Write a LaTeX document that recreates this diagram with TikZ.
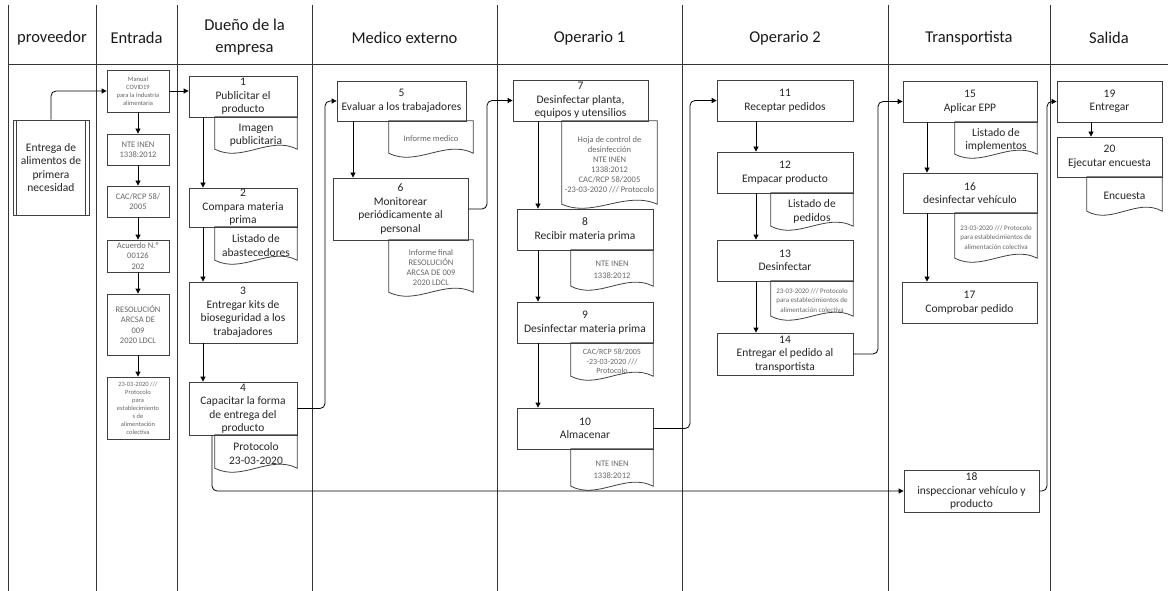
\documentclass[tikz,border=0pt]{standalone}
\usepackage{fontspec}
\setmainfont{Carlito}
\usetikzlibrary{arrows.meta,calc}
\newcommand\docshape[1]{%
  \draw[docline] (#1.north west) -- (#1.north east) -- ([yshift=4pt]#1.south east)
    .. controls ([yshift=18pt]$(#1.south west)!0.67!(#1.south east)$) and ([yshift=-10pt]$(#1.south west)!0.33!(#1.south east)$) .. ([yshift=4pt]#1.south west) -- cycle;}
\tikzset{
  lane/.style={draw=black!80, line width=1pt},
  box/.style={draw=black!75, line width=0.8pt, fill=white, align=center, inner sep=1pt, text=black!85, font=\fontsize{11.5}{13.5}\selectfont},
  ebox/.style={box, text=black!60, font=\fontsize{8.5}{10.3}\selectfont},
  doc/.style={align=center, inner sep=1pt, text=black!85, font=\fontsize{11.5}{13.5}\selectfont},
  sdoc/.style={doc, text=black!60, font=\fontsize{8.5}{10}\selectfont},
  tdoc/.style={doc, text=black!60, font=\fontsize{7}{9.5}\selectfont},
  docline/.style={draw=black!75, line width=0.8pt},
  conn/.style={draw=black, line width=0.8pt, rounded corners=5pt, -{Triangle[length=5pt,width=5pt]}},
  hdr/.style={align=center, font=\fontsize{16.5}{22}\selectfont, text=black!90}
}
\begin{document}
\begin{tikzpicture}[x=1pt,y=-1pt]
\useasboundingbox (0,0) rectangle (1168,591);
% lanes
\foreach \xx in {8,96,177,312,497,682,888,1050}{\draw[lane] (\xx,5) -- (\xx,591);}
\draw[lane] (8,65) -- (1168,65);
% headers
\node[hdr] (h1) at (52,38) {proveedor};
\node[hdr] (h2) at (136.5,38) {Entrada};
\node[hdr] (h3) at (244.5,37) {Dueño de la\\empresa};
\node[hdr] (h4) at (404.5,38) {Medico externo};
\node[hdr] (h5) at (589.5,38) {Operario 1};
\node[hdr] (h6) at (785,38) {Operario 2};
\node[hdr] (h7) at (969,38) {Transportista};
\node[hdr] (h8) at (1109,38) {Salida};
% routing coordinates
\coordinate (r4) at (212,0);
\coordinate (r4b) at (325,0);
\coordinate (r6) at (487,0);
\coordinate (r10) at (690,0);
\coordinate (r14) at (878,0);
\coordinate (r18) at (1047,0);
\coordinate (cD) at (203,0);
\coordinate (cM) at (353,0);
\coordinate (cO) at (538,0);
\coordinate (cP) at (756,0);
\coordinate (cT) at (927,0);
\coordinate (cS) at (1091,0);
% proveedor
\node[box, minimum width=76, minimum height=95] (p) at (51,167.5) {Entrega de\\alimentos de\\primera\\necesidad};
\draw[docline] ([xshift=4pt]p.north west) -- ([xshift=4pt]p.south west);
\draw[docline] ([xshift=-4pt]p.north east) -- ([xshift=-4pt]p.south east);
% entrada
\node[ebox, minimum width=62, minimum height=42, font=\fontsize{6.5}{8}\selectfont] (e1) at (138,91) {Manual\\COVID19\\para la industria\\alimentaria};
\node[ebox, minimum width=62, minimum height=31] (e2) at (138,149.5) {NTE INEN\\1338:2012};
\node[ebox, minimum width=62, minimum height=31] (e3) at (138,201.5) {CAC/RCP 58/\\2005};
\node[ebox, minimum width=62, minimum height=32] (e4) at (138,256) {Acuerdo N.º\\00126\\202};
\node[ebox, minimum width=62, minimum height=61] (e5) at (138,324.5) {RESOLUCIÓN\\ARCSA DE\\009\\2020 LDCL};
\node[ebox, minimum width=62, minimum height=62, font=\fontsize{6.5}{8}\selectfont] (e6) at (138,408) {23-03-2020 ///\\Protocolo\\para\\establecimiento\\s de\\alimentación\\colectiva};
% dueño
\node[box, minimum width=108, minimum height=41] (b1) at (243,96.5) {1\\Publicitar el\\producto};
\node[doc, minimum width=82, minimum height=36] (d1) at (256,135) {Imagen\\publicitaria};
\node[box, minimum width=108, minimum height=39] (b2) at (243,207.5) {2\\Compara materia\\prima};
\node[doc, minimum width=82, minimum height=37] (d2) at (256,245.5) {Listado de\\abastecedores};
\node[box, minimum width=108, minimum height=61] (b3) at (243,312.5) {3\\Entregar kits de\\bioseguridad a los\\trabajadores};
\node[box, minimum width=108, minimum height=53] (b4) at (243,408.5) {4\\Capacitar la forma\\de entrega del\\producto};
\node[doc, minimum width=82, minimum height=37] (d4) at (256,453.5) {Protocolo\\23-03-2020};
% medico
\node[box, minimum width=129, minimum height=40] (b5) at (401.5,101) {5\\Evaluar a los trabajadores};
\node[sdoc, minimum width=84, minimum height=36] (d5) at (431,139) {Informe medico};
\node[box, minimum width=135, minimum height=62] (b6) at (400.5,209) {6\\Monitorear\\periódicamente al\\personal};
\node[sdoc, minimum width=84, minimum height=56] (d6) at (431,268) {Informe final\\RESOLUCIÓN\\ARCSA DE 009\\2020 LDCL};
% operario 1
\node[box, minimum width=135, minimum height=41] (b7) at (580.5,100.5) {7\\Desinfectar planta,\\equipos y utensilios};
\node[sdoc, minimum width=95, minimum height=87] (d7) at (609.5,164.5) {Hoja de control de\\desinfección\\NTE INEN\\1338:2012\\CAC/RCP 58/2005\\-23-03-2020 /// Protocolo};
\node[box, minimum width=136, minimum height=41] (b8) at (585,229.5) {8\\Recibir materia prima};
\node[sdoc, minimum width=82, minimum height=40, font=\fontsize{8.5}{12}\selectfont] (d8) at (612,270) {NTE INEN\\1338:2012};
\node[box, minimum width=136, minimum height=41] (b9) at (585,322.5) {9\\Desinfectar materia prima};
\node[sdoc, minimum width=82, minimum height=37, font=\fontsize{8}{9.5}\selectfont] (d9) at (612,361.5) {CAC/RCP 58/2005\\-23-03-2020 ///\\Protocolo};
\node[box, minimum width=136, minimum height=41] (b10) at (585,428.5) {10\\Almacenar};
\node[sdoc, minimum width=82, minimum height=41, font=\fontsize{8.5}{12}\selectfont] (d10) at (612,469.5) {NTE INEN\\1338:2012};
% operario 2
\node[box, minimum width=136, minimum height=41] (b11) at (785,100.5) {11\\Receptar pedidos};
\node[box, minimum width=136, minimum height=41] (b12) at (785,172.5) {12\\Empacar producto};
\node[doc, minimum width=82, minimum height=37] (d12) at (812,211.5) {Listado de\\pedidos};
\node[box, minimum width=136, minimum height=41] (b13) at (785,260.5) {13\\Desinfectar};
\node[tdoc, minimum width=82, minimum height=39] (d13) at (812,300.5) {23-03-2020 /// Protocolo\\para establecimientos de\\alimentación colectiva};
\node[box, minimum width=136, minimum height=42] (b14) at (785,354) {14\\Entregar el pedido al\\transportista};
% transportista
\node[box, minimum width=134, minimum height=41] (b15) at (970,101.5) {15\\Aplicar EPP};
\node[doc, minimum width=82, minimum height=36] (d15) at (996,140) {Listado de\\implementos};
\node[box, minimum width=134, minimum height=40] (b16) at (970,193) {16\\desinfectar vehículo};
\node[tdoc, minimum width=82, minimum height=49] (d16) at (996,237.5) {23-03-2020 /// Protocolo\\para establecimientos de\\alimentación colectiva};
\node[box, minimum width=135, minimum height=41] (b17) at (969.5,302.5) {17\\Comprobar pedido};
\node[box, minimum width=135, minimum height=42] (b18) at (971.5,491) {18\\inspeccionar vehículo y\\producto};
% salida
\node[box, minimum width=105, minimum height=41] (b19) at (1109.5,101.5) {19\\Entregar};
\node[box, minimum width=105, minimum height=40] (b20) at (1109.5,157) {20\\Ejecutar encuesta};
\node[doc, minimum width=75, minimum height=38] (d20) at (1124.5,196) {Encuesta};
% document outlines
\foreach \d in {d1,d2,d4,d5,d6,d7,d8,d9,d10,d12,d13,d15,d16,d20}{\docshape{\d}}
% connectors
\draw[conn] (p.north) |- (e1.west);
\draw[conn] (e1.east) -- (e1.east -| b1.west);
\draw[conn] (e1.south) -- (e2.north);
\draw[conn] (e2.south) -- (e3.north);
\draw[conn] (e3.south) -- (e4.north);
\draw[conn] (e4.south) -- (e5.north);
\draw[conn] (e5.south) -- (e6.north);
\draw[conn] (b1.south -| cD) -- (b2.north -| cD);
\draw[conn] (b2.south -| cD) -- (b3.north -| cD);
\draw[conn] (b3.south -| cD) -- (b4.north -| cD);
\draw[conn] (b4.east) -- (b4.east -| r4b) |- (b5.west);
\draw[conn] (b4.south -| r4) |- (b18.west);
\draw[conn] (b5.south -| cM) -- (b6.north -| cM);
\draw[conn] (b6.east) -- (b6.east -| r6) |- (b7.west);
\draw[conn] (b7.south -| cO) -- (b8.north -| cO);
\draw[conn] (b8.south -| cO) -- (b9.north -| cO);
\draw[conn] (b9.south -| cO) -- (b10.north -| cO);
\draw[conn] (b10.east) -- (b10.east -| r10) |- (b11.west);
\draw[conn] (b11.south -| cP) -- (b12.north -| cP);
\draw[conn] (b12.south -| cP) -- (b13.north -| cP);
\draw[conn] (b13.south -| cP) -- (b14.north -| cP);
\draw[conn] (b14.east) -- (b14.east -| r14) |- (b15.west);
\draw[conn] (b15.south -| cT) -- (b16.north -| cT);
\draw[conn] (b16.south -| cT) -- (b17.north -| cT);
\draw[conn] (b18.east) -- (b18.east -| r18) |- (b19.west);
\draw[conn] (b19.south -| cS) -- (b20.north -| cS);
\end{tikzpicture}
\end{document}
